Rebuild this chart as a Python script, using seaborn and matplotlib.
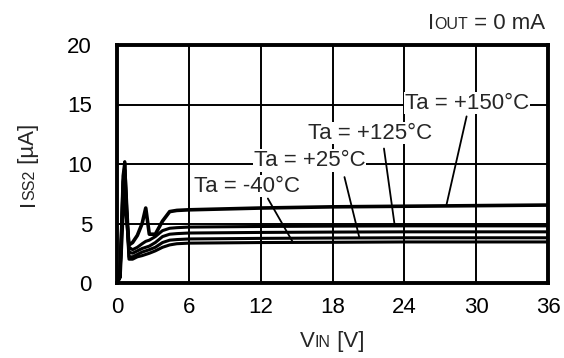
import numpy as np
import pandas as pd
import matplotlib
matplotlib.use("Agg")
import matplotlib.pyplot as plt
import seaborn as sns

# ---- data ----
vin = [0, 0.25, 0.5, 0.65, 0.8, 1.0, 1.3, 1.7, 2.1, 2.4, 2.7, 3.2, 3.8, 4.4, 5.0, 6.0, 12, 18, 24, 30, 36]
iss_150 = [0, 0.5, 6.0, 8.0, 5.5, 3.2, 3.4, 4.0, 5.0, 6.3, 4.1, 4.1, 5.2, 6.0, 6.1, 6.15, 6.3, 6.4, 6.45, 6.5, 6.55]
iss_125 = [0, 0.5, 8.0, 10.0, 7.0, 3.0, 2.8, 3.0, 3.3, 3.5, 3.6, 3.9, 4.4, 4.6, 4.65, 4.7, 4.75, 4.78, 4.8, 4.8, 4.8]
iss_85 = [0, 0.5, 7.0, 9.0, 6.0, 2.6, 2.5, 2.7, 2.9, 3.0, 3.1, 3.4, 3.9, 4.1, 4.15, 4.2, 4.25, 4.28, 4.3, 4.3, 4.3]
iss_25 = [0, 0.5, 9.0, 10.2, 6.5, 2.2, 2.2, 2.4, 2.6, 2.7, 2.8, 3.0, 3.4, 3.6, 3.65, 3.7, 3.75, 3.78, 3.8, 3.8, 3.8]
iss_m40 = [0, 0.5, 8.5, 9.5, 6.0, 2.0, 2.0, 2.2, 2.3, 2.4, 2.5, 2.7, 3.0, 3.2, 3.3, 3.35, 3.4, 3.42, 3.45, 3.45, 3.45]

x_ticks = [0, 6, 12, 18, 24, 30, 36]
y_ticks = [0, 5, 10, 15, 20]

labels = ["Ta = +150°C", "Ta = +125°C", "Ta = +25°C", "Ta = -40°C"]
label_xy = [(29.25, 15.1), (21.1, 12.6), (16.1, 10.3), (10.9, 8.15)]
pointer_start = [(29.2, 14.0), (22.3, 11.3), (19.0, 8.9), (12.6, 7.1)]
pointer_end_x = [27.5, 23.2, 20.25, 14.7]

series = {"150": iss_150, "125": iss_125, "85": iss_85, "25": iss_25, "-40": iss_m40}

sns.set_theme(style="white")
plt.rcParams["font.family"] = ["Liberation Sans", "DejaVu Sans"]

FS = 16
FS_SMALL = 11.5

fig = plt.figure(figsize=(5.64, 3.58), dpi=100)
ax = fig.add_axes([117 / 564, 1 - 283 / 358, (548 - 117) / 564, (283 - 45) / 358])

for key, vals in series.items():
    df = pd.DataFrame({"VIN": vin, "ISS": vals})
    lw = 2.6 if key == "150" else 2.2
    sns.lineplot(data=df, x="VIN", y="ISS", ax=ax, color="black", linewidth=lw,
                 estimator=None, sort=False, zorder=3)

ax.set_xlim(0, 36)
ax.set_ylim(0, 20)
ax.set_xticks(x_ticks)
ax.set_yticks(y_ticks)
ax.set_xticklabels([str(t) for t in x_ticks])
ax.set_yticklabels([str(t) for t in y_ticks])
ax.tick_params(axis="both", length=0, labelsize=FS, colors="black")
ax.tick_params(axis="y", pad=18)
ax.tick_params(axis="x", pad=10)
ax.set_xlabel("")
ax.set_ylabel("")
ax.grid(True, color="black", linewidth=1.4)
ax.set_axisbelow(True)
for sp in ax.spines.values():
    sp.set_color("black")
    sp.set_linewidth(2.8)
    sp.set_zorder(5)

end_vals = [iss_150, iss_125, iss_25, iss_m40]
for lab, (tx, ty), (sx, sy), ex, vals in zip(labels, label_xy, pointer_start, pointer_end_x, end_vals):
    ey = float(np.interp(ex, vin, vals))
    ax.plot([sx, ex], [sy, ey], color="black", linewidth=1.3, zorder=4)
    ax.text(tx, ty, lab, ha="center", va="center", fontsize=FS, zorder=6,
            bbox=dict(facecolor="white", edgecolor="none", pad=0.5))

# ---- texts with small-cap style subscripts ----
fig.canvas.draw()
renderer = fig.canvas.get_renderer()
W, H = 564.0, 358.0


def sub_text(parts, x, y, ha="left", rotation=0):
    """parts: list of (text, size). x, y in pixels from top-left (baseline)."""
    objs, widths = [], []
    for txt, size in parts:
        t = fig.text(0, 0, txt, fontsize=size, rotation=rotation,
                     ha="left", va="baseline", rotation_mode="anchor")
        bb = t.get_window_extent(renderer)
        widths.append(bb.width if rotation == 0 else bb.height)
        objs.append(t)
    total = sum(widths)
    if rotation == 0:
        start = x - total if ha == "right" else (x - total / 2 if ha == "center" else x)
        pos = start
        for t, w in zip(objs, widths):
            t.set_position((pos / W, 1 - y / H))
            pos += w
    else:
        yb = H - y  # from bottom
        pos = yb - total / 2 if ha == "center" else yb
        for t, w in zip(objs, widths):
            t.set_position((x / W, pos / H))
            pos += w
    return objs


sub_text([("I", FS), ("OUT", FS_SMALL), (" = 0 mA", FS)], 545, 29, ha="right")
sub_text([("V", FS), ("IN", FS_SMALL), (" [V]", FS)], 332, 347, ha="center")
sub_text([("I", FS), ("SS2", FS_SMALL), (" [µA]", FS)], 34, 165, ha="center", rotation=90)

fig.savefig("out.png", dpi=100)
